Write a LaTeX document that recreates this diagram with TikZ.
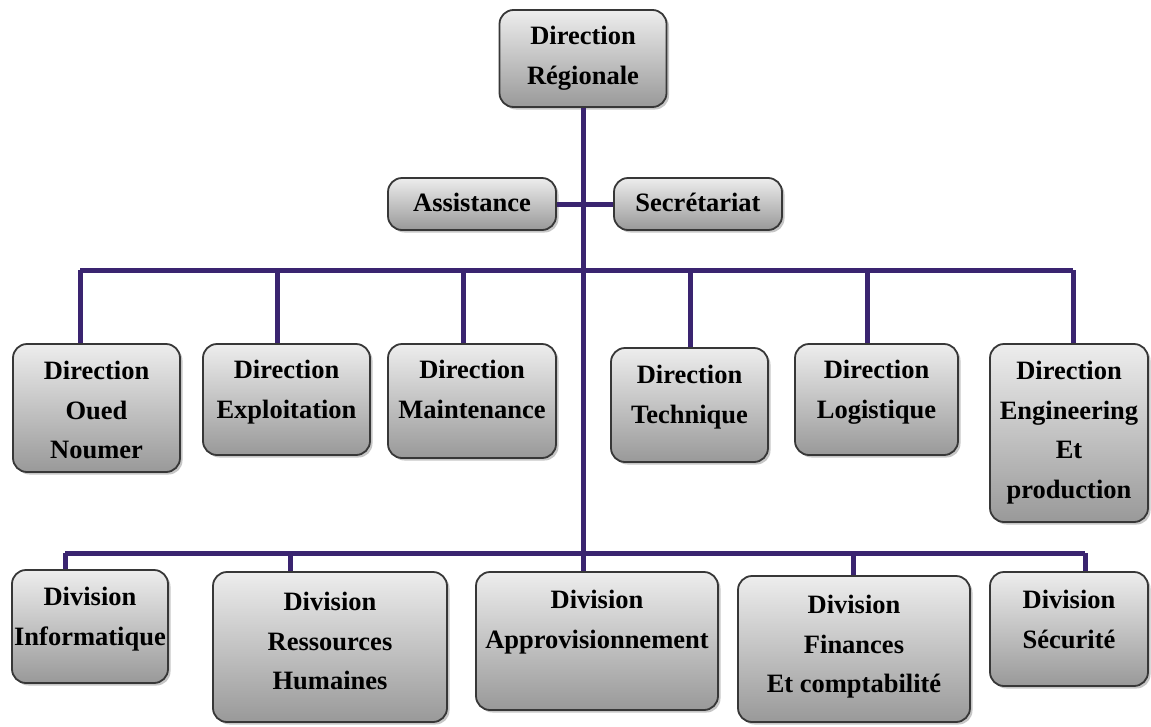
\documentclass[tikz,border=0pt]{standalone}
\usepackage{fontspec}
\setmainfont{Liberation Serif}
\usetikzlibrary{shadows}
\definecolor{linkc}{RGB}{58,36,112}
\definecolor{edgec}{RGB}{55,55,55}
\begin{document}
\begin{tikzpicture}[x=1pt,y=-1pt,
  orgbox/.style={draw=edgec,line width=1.8pt,rounded corners=14pt,
    top color=white!93!black,bottom color=white!60!black,
    drop shadow={opacity=0.45,shadow xshift=2.5pt,shadow yshift=-2.5pt},
    inner sep=0pt},
  boxtext/.style={anchor=north,inner sep=0pt,align=center,
    font=\fontsize{26.5}{39.5}\selectfont\bfseries},
  link/.style={draw=linkc,line width=5pt}]
\useasboundingbox (0,0) rectangle (1151,726);
% connector coordinates
\coordinate (ub) at (583,270);
\coordinate (lb) at (583,553);
\coordinate (u1) at (80,270);
\coordinate (u2) at (277,270);
\coordinate (u3) at (463,270);
\coordinate (u4) at (690,270);
\coordinate (u5) at (867,270);
\coordinate (u6) at (1073,270);
\coordinate (l1) at (65,553);
\coordinate (l2) at (290,553);
\coordinate (l4) at (853,553);
\coordinate (l5) at (1085,553);
% boxes
\node[orgbox,minimum width=167,minimum height=97] (dr) at (583,58.5) {};
\node[orgbox,minimum width=168,minimum height=52] (as) at (472,204) {};
\node[orgbox,minimum width=168,minimum height=52] (se) at (698,204) {};
\node[orgbox,minimum width=167,minimum height=128] (on) at (96.5,408) {};
\node[orgbox,minimum width=167,minimum height=111] (ex) at (286.5,399.5) {};
\node[orgbox,minimum width=168,minimum height=114] (ma) at (472,401) {};
\node[orgbox,minimum width=157,minimum height=114] (te) at (689.5,405) {};
\node[orgbox,minimum width=163,minimum height=111] (lo) at (876.5,399.5) {};
\node[orgbox,minimum width=158,minimum height=178] (en) at (1069,433) {};
\node[orgbox,minimum width=156,minimum height=113] (in) at (90,626.5) {};
\node[orgbox,minimum width=234,minimum height=150] (rh) at (330,647) {};
\node[orgbox,minimum width=242,minimum height=138] (ap) at (597,641) {};
\node[orgbox,minimum width=232,minimum height=146] (fi) at (854,649) {};
\node[orgbox,minimum width=158,minimum height=114] (sc) at (1069,629) {};
% connectors
\draw[link] (dr.south) -- (lb);
\draw[link] (as.east) -- (se.west);
\draw[link] (u1) -- (u6);
\draw[link] (u1) -- (u1 |- on.north);
\draw[link] (u2) -- (u2 |- ex.north);
\draw[link] (u3) -- (u3 |- ma.north);
\draw[link] (u4) -- (u4 |- te.north);
\draw[link] (u5) -- (u5 |- lo.north);
\draw[link] (u6) -- (u6 |- en.north);
\draw[link] (l1) -- (l5);
\draw[link] (l1) -- (l1 |- in.north);
\draw[link] (l2) -- (l2 |- rh.north);
\draw[link] (lb) -- (lb |- ap.north);
\draw[link] (l4) -- (l4 |- fi.north);
\draw[link] (l5) -- (l5 |- sc.north);
% texts
\node[boxtext] (drt) at ([yshift=-17pt]dr.north) {Direction\\Régionale};
\node[boxtext] (ast) at ([yshift=-16pt]as.north) {Assistance};
\node[boxtext] (set) at ([yshift=-16pt]se.north) {Secrétariat};
\node[boxtext] (ont) at ([yshift=-18pt]on.north) {Direction\\Oued\\Noumer};
\node[boxtext] (ext) at ([yshift=-17pt]ex.north) {Direction\\Exploitation};
\node[boxtext] (mat) at ([yshift=-17pt]ma.north) {Direction\\Maintenance};
\node[boxtext] (tet) at ([yshift=-18pt]te.north) {Direction\\Technique};
\node[boxtext] (lot) at ([yshift=-17pt]lo.north) {Direction\\Logistique};
\node[boxtext] (ent) at ([yshift=-18pt]en.north) {Direction\\Engineering\\Et\\production};
\node[boxtext] (int) at ([yshift=-18pt]in.north) {Division\\Informatique};
\node[boxtext] (rht) at ([yshift=-21pt]rh.north) {Division\\Ressources\\Humaines};
\node[boxtext] (apt) at ([yshift=-19pt]ap.north) {Division\\Approvisionnement};
\node[boxtext] (fit) at ([yshift=-20pt]fi.north) {Division\\Finances\\Et comptabilité};
\node[boxtext] (sct) at ([yshift=-19pt]sc.north) {Division\\Sécurité};
\end{tikzpicture}
\end{document}
